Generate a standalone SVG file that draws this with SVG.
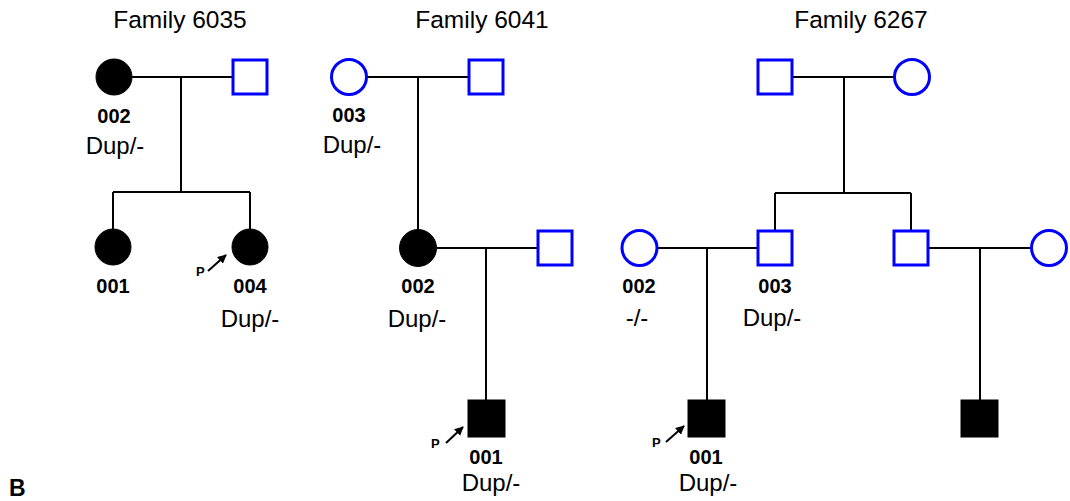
<svg xmlns="http://www.w3.org/2000/svg" width="1070" height="501" viewBox="0 0 1070 501">
<defs>
<marker id="ahp" viewBox="0 0 10 10" refX="9" refY="5" markerWidth="9" markerHeight="9" orient="auto" markerUnits="userSpaceOnUse"><path d="M0,0 L10,5 L0,10 z" fill="#000"/></marker>
</defs>
<style>
.bg{fill:#fff}
.line{stroke:#000;stroke-width:2;fill:none}
.aff{fill:#000;stroke:#000;stroke-width:1}
.unaff{fill:#fff;stroke:#0000ff;stroke-width:3}
.title{font-family:"Liberation Sans",Arial,sans-serif;font-size:24.5px;fill:#000;text-anchor:middle}
.id{font-family:"Liberation Sans",Arial,sans-serif;font-size:20px;font-weight:bold;fill:#000;text-anchor:middle}
.gt{font-family:"Liberation Sans",Arial,sans-serif;font-size:24px;fill:#000;text-anchor:middle}
.p{font-family:"Liberation Sans",Arial,sans-serif;font-size:13px;font-weight:bold;fill:#000}
.parrow{stroke:#000;stroke-width:2;fill:none;marker-end:url(#ahp)}
.panel{font-family:"Liberation Sans",Arial,sans-serif;font-size:23px;font-weight:bold;fill:#000}
</style>
<rect class="bg" x="0" y="0" width="1070" height="501"/>
<g id="titles">
<text class="title" x="180" y="28">Family 6035</text>
<text class="title" x="482" y="28">Family 6041</text>
<text class="title" x="861" y="28">Family 6267</text>
</g>
<g id="connectors">
<path class="line" d="M132,77 H232 M181,77 V192 M113,192 H250 M113,192 V229 M250,192 V229"/>
<path class="line" d="M367,77 H468 M418,77 V230 M437,248 H537 M486,248 V400"/>
<path class="line" d="M793,77 H894 M844,77 V193 M775,193 H911 M775,193 V230 M911,193 V230 M657,248 H757 M707,248 V400 M929,248 H1031 M980,248 V400"/>
</g>
<g id="f6035-002"><circle class="aff" cx="114" cy="77" r="18"/><text class="id" x="114" y="123">002</text><text class="gt" x="115" y="154">Dup/-</text></g>
<g id="f6035-father"><rect class="unaff" x="233" y="60" width="34" height="34"/></g>
<g id="f6035-001"><circle class="aff" cx="113" cy="247" r="18"/><text class="id" x="113" y="293">001</text></g>
<g id="f6035-004"><circle class="aff" cx="250" cy="247" r="18"/><text class="id" x="250" y="293">004</text><text class="gt" x="250" y="327">Dup/-</text>
<text class="p" x="196" y="276">P</text><line class="parrow" x1="208" y1="271" x2="226" y2="255"/></g>
<g id="f6041-003"><circle class="unaff" cx="349" cy="77" r="17.5"/><text class="id" x="349" y="122">003</text><text class="gt" x="352" y="153">Dup/-</text></g>
<g id="f6041-father"><rect class="unaff" x="469" y="60" width="34" height="34"/></g>
<g id="f6041-002"><circle class="aff" cx="418" cy="248" r="18.5"/><text class="id" x="418" y="293">002</text><text class="gt" x="417" y="327">Dup/-</text></g>
<g id="f6041-husband"><rect class="unaff" x="538" y="231" width="34" height="34"/></g>
<g id="f6041-001"><rect class="aff" x="468" y="400" width="37" height="37"/><text class="id" x="486" y="464">001</text><text class="gt" x="491" y="491">Dup/-</text>
<text class="p" x="431" y="448">P</text><line class="parrow" x1="446" y1="443" x2="463" y2="427"/></g>
<g id="f6267-gf"><rect class="unaff" x="758" y="60" width="34" height="34"/></g>
<g id="f6267-gm"><circle class="unaff" cx="912" cy="77" r="17.5"/></g>
<g id="f6267-002"><circle class="unaff" cx="639.5" cy="248" r="17.5"/><text class="id" x="639" y="293">002</text><text class="gt" x="637" y="326">-/-</text></g>
<g id="f6267-003"><rect class="unaff" x="758" y="231" width="34" height="34"/><text class="id" x="775" y="293">003</text><text class="gt" x="772" y="326">Dup/-</text></g>
<g id="f6267-uncle"><rect class="unaff" x="894" y="231" width="34" height="34"/></g>
<g id="f6267-aunt"><circle class="unaff" cx="1049" cy="248" r="17.5"/></g>
<g id="f6267-001"><rect class="aff" x="688" y="400" width="37" height="37"/><text class="id" x="706" y="464">001</text><text class="gt" x="708" y="491">Dup/-</text>
<text class="p" x="652" y="447">P</text><line class="parrow" x1="666" y1="442" x2="684" y2="426"/></g>
<g id="f6267-cousin"><rect class="aff" x="961" y="400" width="37" height="37"/></g>
<text class="panel" x="9" y="496">B</text>
</svg>
